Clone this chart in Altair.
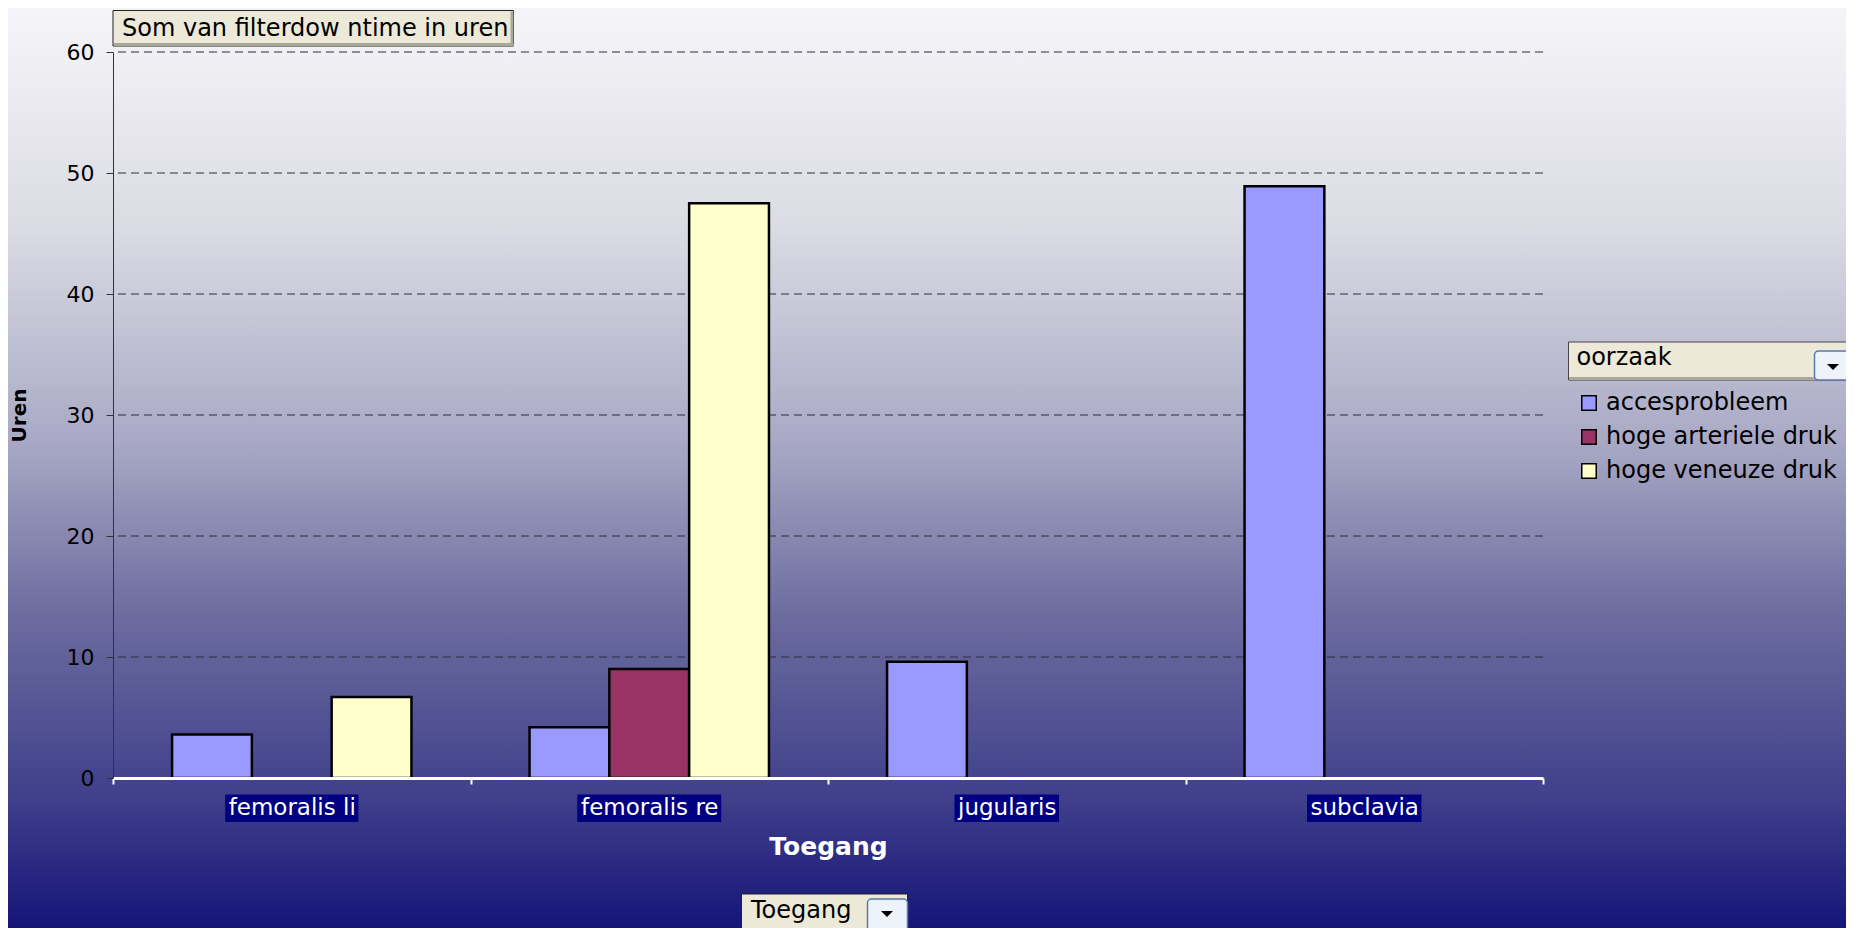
import altair as alt
import pandas as pd

# ---- data ----
categories = ["femoralis li", "femoralis re", "jugularis", "subclavia"]
causes = ["accesprobleem", "hoge arteriele druk", "hoge veneuze druk"]
bar_toegang = ["femoralis li", "femoralis li", "femoralis re", "femoralis re",
               "femoralis re", "jugularis", "subclavia"]
bar_oorzaak = ["accesprobleem", "hoge veneuze druk", "accesprobleem", "hoge arteriele druk",
               "hoge veneuze druk", "accesprobleem", "accesprobleem"]
bar_uren = [3.6, 6.7, 4.2, 9.0, 47.5, 9.6, 48.9]
y_ticks = [0, 10, 20, 30, 40, 50, 60]
grid_values = [10, 20, 30, 40, 50, 60]
colors = ["#9999ff", "#993366", "#ffffcc"]

chart_title = "Som van filterdow ntime in uren"
legend_title = "oorzaak"
x_title = "Toegang"
y_title = "Uren"

FONT = "DejaVu Sans"
W, H = 1430, 726
PAD = {"left": 105, "top": 44, "right": 303, "bottom": 150}
XLAB = 23

# approximate DejaVu Sans advance widths (em)
CW = {"a": .613, "b": .635, "c": .550, "e": .615, "f": .352, "g": .635, "i": .278,
      "j": .278, "l": .278, "m": .974, "o": .612, "r": .411, "s": .521, " ": .318,
      "u": .634, "v": .592}


def text_width(s, size):
    return sum(CW.get(ch, .6) for ch in s) * size


df = pd.DataFrame({"Toegang": bar_toegang, "oorzaak": bar_oorzaak, "uren": bar_uren})
grid_df = pd.DataFrame({"uren": grid_values})
label_df = pd.DataFrame({"Toegang": categories,
                         "w": [text_width(c, XLAB) + 6 for c in categories]})
one = pd.DataFrame({"k": [0]})

x_scale = alt.Scale(domain=categories, paddingInner=0, paddingOuter=0)
off_scale = alt.Scale(domain=causes, paddingInner=0, paddingOuter=0.74)
y_scale = alt.Scale(domain=[0, 60], nice=False)

x_axis = alt.Axis(title=x_title, labelAngle=0, domainColor="white", domainWidth=3,
                  tickColor="white", tickWidth=2, tickSize=6, tickBand="extent",
                  labelColor="white", labelFont=FONT, labelFontSize=XLAB,
                  labelBaseline="middle", labelPadding=23, grid=False, zindex=1,
                  titleColor="white", titleFont=FONT, titleFontWeight="bold",
                  titleFontSize=25, titleX=W / 2, titleY=68, titleBaseline="middle")
y_axis = alt.Axis(title=y_title, values=y_ticks, domainColor="#333333", domainWidth=1,
                  tickColor="#333333", tickSize=7, labelColor="black", labelFont=FONT,
                  labelFontSize=22, labelPadding=12, grid=False, zindex=1,
                  titleColor="black", titleFont=FONT, titleFontWeight="bold",
                  titleFontSize=20, titleAngle=270, titleX=-94, titleY=H / 2,
                  titleAlign="center", titleBaseline="middle")
legend = alt.Legend(title=None, orient="none", legendX=1464, legendY=339, padding=0,
                    symbolType="square", symbolSize=210, symbolStrokeColor="black",
                    symbolStrokeWidth=1.5, labelFont=FONT, labelFontSize=24,
                    labelColor="black", labelOffset=5, rowPadding=10, labelLimit=0)

bg = alt.Chart(one).mark_rect(
    fill=alt.Gradient(gradient="linear", x1=0, x2=0, y1=0, y2=1, stops=[
        alt.GradientStop(color="#f5f5f9", offset=0),
        alt.GradientStop(color="#dcdde4", offset=0.23),
        alt.GradientStop(color="#a9a9c6", offset=0.47),
        alt.GradientStop(color="#6c6c9f", offset=0.66),
        alt.GradientStop(color="#3f3f8b", offset=0.86),
        alt.GradientStop(color="#151579", offset=1),
    ])
).encode(x=alt.value(-PAD["left"]), x2=alt.value(W + PAD["right"]),
         y=alt.value(-PAD["top"]), y2=alt.value(H + PAD["bottom"]))

grid = alt.Chart(grid_df).mark_rule(color="#2c2c3c", strokeDash=[8, 5], strokeWidth=1).encode(
    y=alt.Y("uren:Q", scale=y_scale, axis=y_axis)
)

bars = alt.Chart(df).mark_bar(stroke="black", strokeWidth=2.5).encode(
    x=alt.X("Toegang:N", scale=x_scale, axis=x_axis),
    xOffset=alt.XOffset("oorzaak:N", scale=off_scale),
    y=alt.Y("uren:Q", scale=y_scale, axis=y_axis),
    color=alt.Color("oorzaak:N", scale=alt.Scale(domain=causes, range=colors), legend=legend),
)

label_boxes = alt.Chart(label_df).mark_bar(color="#000080").encode(
    x=alt.X("Toegang:N", scale=x_scale, axis=x_axis),
    y=alt.value(742.6), y2=alt.value(770),
    size=alt.Size("w:Q", scale=None),
)


def rect(x, x2, y, y2, **kw):
    return alt.Chart(one).mark_rect(**kw).encode(
        x=alt.value(x), x2=alt.value(x2), y=alt.value(y), y2=alt.value(y2))


def label(txt, x, y, size=24, **kw):
    return alt.Chart(one).mark_text(font=FONT, fontSize=size, align="left",
                                    baseline="middle", color="black", **kw).encode(
        x=alt.value(x), y=alt.value(y), text=alt.value(txt))


def arrow(x, y):
    return alt.Chart(one).mark_point(shape="M-1,-0.5L1,-0.5L0,0.5Z", filled=True,
                                     color="black", size=144, opacity=1).encode(
        x=alt.value(x), y=alt.value(y))


# title box
deco = [
    rect(0, 400.5, -41.5, -6, fill="#ece9d8", stroke="#222222", strokeWidth=1),
    rect(397.5, 400.5, -40.5, -6, fill="#aca899"),
    rect(1, 400.5, -9, -6, fill="#aca899"),
    label(chart_title, 9, -23.5),
    # legend header
    rect(1455.5, 1745, 290, 328, fill="#ece9d8", stroke="#444444", strokeWidth=1),
    rect(1456, 1745, 325, 328, fill="#aca899"),
    label(legend_title, 1463.5, 306),
    rect(1701.5, 1740, 299, 328, fill="#eef2fa", stroke="#5b7aa8", strokeWidth=1.5,
         cornerRadius=4),
    arrow(1720, 315),
    # bottom Toegang field button
    rect(628.5, 794.5, 842, 885, fill="#ece9d8", stroke="#222222", strokeWidth=1),
    label(x_title, 638, 859),
    rect(754.5, 794.5, 847, 885, fill="#eef2fa", stroke="#5b7aa8", strokeWidth=1.5,
         cornerRadius=4),
    arrow(774, 862),
]

chart = alt.layer(bg, grid, bars, label_boxes, *deco).properties(
    width=W, height=H,
    autosize=alt.AutoSizeParams(type="none"),
    padding=PAD,
).configure_view(strokeWidth=0)

chart.save("out.html", embed_options={"renderer": "svg", "actions": False})
